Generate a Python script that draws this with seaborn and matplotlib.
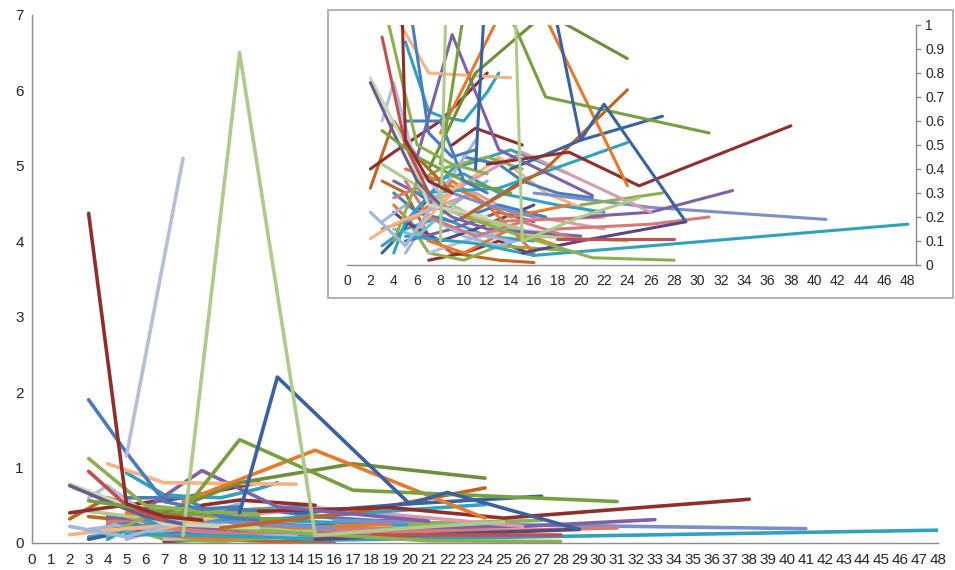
import matplotlib
matplotlib.use("Agg")
import matplotlib.pyplot as plt
import seaborn as sns
import pandas as pd
from matplotlib.patches import Rectangle

# ---------------- data: (x values, y values) per series ----------------
red_spike     = ([3, 5, 7, 9], [4.37, 0.52, 0.35, 0.30])
lav_spike     = ([5, 8], [1.15, 5.10])
lgreen_peak   = ([8, 11, 15, 20, 25], [0.10, 6.50, 0.10, 0.20, 0.28])
dblue_peak    = ([11, 13, 20, 22, 29], [0.40, 2.20, 0.52, 0.67, 0.18])
blue_fall     = ([3, 5, 7, 9, 11], [1.90, 1.20, 0.55, 0.45, 0.48])
olive_peak    = ([8, 11, 17, 31], [0.42, 1.37, 0.70, 0.55])
olive_fall    = ([3, 6, 9, 12], [1.12, 0.50, 0.42, 0.38])
orange_peak   = ([8, 15, 24], [0.55, 1.23, 0.33])
dgreen_long   = ([7, 11, 17, 24], [0.40, 0.80, 1.05, 0.86])
purple_peak   = ([6, 9, 13, 21], [0.45, 0.96, 0.48, 0.29])
salmon_flat   = ([4, 7, 14], [1.05, 0.80, 0.78])
dred_long     = ([12, 19, 25, 38], [0.42, 0.47, 0.33, 0.58])
peri_long     = ([16, 26, 41], [0.30, 0.24, 0.19])
teal_long     = ([5, 11, 16, 26, 48], [0.12, 0.09, 0.04, 0.08, 0.17])
purple_33     = ([20, 26, 33], [0.20, 0.22, 0.31])
rose_31       = ([18, 26, 31], [0.15, 0.17, 0.20])
dpurple_29    = ([15, 20, 29], [0.05, 0.10, 0.18])
red_28        = ([18, 28], [0.11, 0.11])
green_28      = ([10, 15, 21, 28], [0.20, 0.12, 0.03, 0.02])
green_27      = ([20, 27], [0.25, 0.30])
blue_27       = ([14, 20, 27], [0.40, 0.52, 0.62])
orange_24     = ([10, 17, 24], [0.20, 0.40, 0.73])
pink_26       = ([8, 15, 26], [0.28, 0.47, 0.22])
teal_24       = ([6, 13, 24], [0.30, 0.32, 0.51])
teal_top      = ([5, 7, 8, 10, 12, 13], [0.93, 0.64, 0.62, 0.60, 0.72, 0.80])
red_3         = ([3, 5, 7], [0.95, 0.50, 0.30])
slate_2       = ([2, 4, 6, 8], [0.76, 0.55, 0.35, 0.25])
pale_2        = ([2, 5, 7, 12], [0.78, 0.50, 0.25, 0.20])
lav_3         = ([3, 4, 6, 8], [0.60, 0.76, 0.40, 0.30])
dred_2        = ([2, 4, 8, 12], [0.40, 0.47, 0.60, 0.80])
orange_2      = ([2, 4, 6, 9], [0.32, 0.60, 0.45, 0.30])
lblue_2       = ([2, 5, 8, 11], [0.22, 0.08, 0.30, 0.52])
salmon_2      = ([2, 4, 7, 10], [0.11, 0.17, 0.23, 0.35])
blue_flat     = ([5, 8, 10, 12], [0.60, 0.60, 0.35, 0.30])
green_3       = ([3, 6, 10, 14], [0.56, 0.45, 0.35, 0.30])
dred_flat     = ([9, 11, 15], [0.50, 0.57, 0.50])
f01 = ([4, 6, 9, 13, 17], [0.30, 0.22, 0.18, 0.25, 0.20])
f02 = ([3, 5, 8, 12, 16], [0.08, 0.15, 0.20, 0.12, 0.10])
f03 = ([4, 7, 10, 14, 18], [0.25, 0.10, 0.05, 0.15, 0.08])
f04 = ([4, 6, 9, 12, 20], [0.35, 0.30, 0.20, 0.15, 0.12])
f05 = ([5, 7, 10, 13, 19], [0.20, 0.05, 0.02, 0.08, 0.06])
f06 = ([4, 6, 8, 12, 22], [0.28, 0.32, 0.25, 0.18, 0.20])
f07 = ([4, 6, 9, 12], [0.15, 0.12, 0.25, 0.35])
f08 = ([3, 5, 7, 9, 13, 16], [0.35, 0.30, 0.12, 0.05, 0.02, 0.01])
f09 = ([5, 8, 11, 14, 22], [0.18, 0.25, 0.30, 0.22, 0.15])
f10 = ([3, 4, 7, 10, 15], [0.05, 0.10, 0.28, 0.20, 0.35])
f11 = ([6, 9, 12, 16, 24], [0.30, 0.22, 0.18, 0.12, 0.10])
f12 = ([5, 7, 10, 13, 18], [0.05, 0.20, 0.12, 0.08, 0.15])
f13 = ([6, 9, 13, 17, 22], [0.15, 0.30, 0.45, 0.30, 0.20])
f14 = ([7, 10, 14, 20], [0.05, 0.10, 0.15, 0.12])
f15 = ([4, 5, 8, 11, 16], [0.22, 0.18, 0.10, 0.15, 0.25])
f16 = ([7, 10, 13, 18, 22], [0.35, 0.38, 0.30, 0.25, 0.22])
f17 = ([4, 6, 8, 12, 15], [0.10, 0.35, 0.40, 0.45, 0.40])
f18 = ([5, 8, 11, 14, 19], [0.40, 0.35, 0.28, 0.20, 0.25])
f19 = ([7, 10, 13, 16], [0.02, 0.05, 0.10, 0.04])
f20 = ([10, 13, 15, 18, 21], [0.45, 0.42, 0.35, 0.30, 0.28])
f21 = ([6, 9, 12, 16], [0.45, 0.30, 0.25, 0.20])
f22 = ([3, 5, 9, 14], [0.18, 0.25, 0.15, 0.10])
f23 = ([5, 7, 11, 15, 20], [0.35, 0.20, 0.12, 0.18, 0.10])
f24 = ([4, 5, 9, 14, 19], [0.05, 0.18, 0.40, 0.48, 0.38])
f25 = ([3, 7, 11, 15], [0.42, 0.30, 0.20, 0.15])
f26 = ([5, 9, 13, 16], [0.10, 0.15, 0.22, 0.18])
f27 = ([3, 6, 9, 12, 16], [0.15, 0.20, 0.35, 0.25, 0.05])

# ---------------- styling ----------------
C = dict(
    dblue="#3A62A0", blue="#4A7DBE", dred="#8E2F2C", red="#C0504D",
    olive="#77A03E", green="#8DB04F", lgreen="#AECB8C", purple="#7E61A6",
    dpurple="#5B4680", teal="#31A2BE", lteal="#6FC3D6", orange="#E9782A",
    dorange="#C0641E", salmon="#F7B285", pink="#D99AAE", rosered="#D47B78",
    lavender="#B6BEDB", lblue="#9DB7DE", peri="#7D8FCB", pale="#C9D6BA",
    slate="#6A5D8E", dgreen="#6E8F3A",
)

series = [
    ("f08", f08, "dorange"), ("f19", f19, "dred"), ("f05", f05, "green"),
    ("f14", f14, "lavender"), ("f12", f12, "lblue"), ("f02", f02, "teal"),
    ("f03", f03, "orange"), ("f10", f10, "dblue"), ("f15", f15, "dpurple"),
    ("f26", f26, "purple"), ("f27", f27, "orange"), ("f22", f22, "lblue"),
    ("f07", f07, "lteal"), ("f09", f09, "pink"), ("f11", f11, "lgreen"),
    ("f01", f01, "blue"), ("f06", f06, "rosered"), ("f04", f04, "purple"),
    ("f23", f23, "rosered"), ("f25", f25, "lgreen"), ("f24", f24, "teal"),
    ("f13", f13, "salmon"), ("f16", f16, "teal"), ("f17", f17, "green"),
    ("f18", f18, "orange"), ("f20", f20, "blue"), ("f21", f21, "peri"),
    ("teal_long", teal_long, "teal"), ("peri_long", peri_long, "peri"),
    ("purple_33", purple_33, "purple"), ("rose_31", rose_31, "rosered"),
    ("dpurple_29", dpurple_29, "dpurple"), ("red_28", red_28, "red"),
    ("green_28", green_28, "green"), ("green_27", green_27, "green"),
    ("pink_26", pink_26, "pink"), ("teal_24", teal_24, "teal"),
    ("salmon_2", salmon_2, "salmon"), ("lblue_2", lblue_2, "lblue"),
    ("orange_2", orange_2, "dorange"), ("dred_2", dred_2, "dred"),
    ("lav_3", lav_3, "lavender"), ("pale_2", pale_2, "pale"),
    ("slate_2", slate_2, "slate"), ("red_3", red_3, "red"),
    ("green_3", green_3, "olive"), ("blue_flat", blue_flat, "blue"),
    ("dred_flat", dred_flat, "dred"), ("orange_24", orange_24, "dorange"),
    ("blue_27", blue_27, "dblue"), ("dred_long", dred_long, "dred"),
    ("teal_top", teal_top, "teal"), ("purple_peak", purple_peak, "purple"),
    ("salmon_flat", salmon_flat, "salmon"), ("dgreen_long", dgreen_long, "dgreen"),
    ("orange_peak", orange_peak, "orange"), ("olive_fall", olive_fall, "green"),
    ("olive_peak", olive_peak, "olive"), ("blue_fall", blue_fall, "blue"),
    ("dblue_peak", dblue_peak, "dblue"), ("lgreen_peak", lgreen_peak, "lgreen"),
    ("lav_spike", lav_spike, "lavender"), ("red_spike", red_spike, "dred"),
]

rows = []
for name, (xs, ys), _ in series:
    for x, y in zip(xs, ys):
        rows.append({"series": name, "x": x, "y": y})
df = pd.DataFrame(rows)
order = [s[0] for s in series]
palette = {s[0]: C[s[2]] for s in series}

sns.set_style("white")
plt.rcParams["font.family"] = ["Liberation Sans", "DejaVu Sans"]

fig = plt.figure(figsize=(9.55, 5.7), dpi=100)
W, H = 955.0, 570.0
axis_gray = "#8C8C8C"
text_col = "#262626"

# ---------- main axes ----------
ax = fig.add_axes([32 / W, 27 / H, (938 - 32) / W, (543 - 15) / H])
ax.set_zorder(0)
sns.lineplot(data=df, x="x", y="y", hue="series", hue_order=order, palette=palette,
             estimator=None, sort=False, legend=False, linewidth=2.6, ax=ax)
ax.set_xlim(0, 48)
ax.set_ylim(0, 7)
ax.set_xticks(range(0, 49))
ax.set_xticklabels([str(i) for i in range(0, 49)])
ax.set_yticks(range(0, 8))
ax.set_xlabel("")
ax.set_ylabel("")
for s in ["top", "right"]:
    ax.spines[s].set_visible(False)
for s in ["left", "bottom"]:
    ax.spines[s].set_color(axis_gray)
    ax.spines[s].set_linewidth(1.0)
ax.tick_params(axis="both", which="major", length=4, width=1, color=axis_gray,
               labelsize=11, labelcolor=text_col, pad=2, direction="out")
ax.tick_params(axis="x", pad=3)

# ---------- inset box ----------
box = Rectangle((328 / W, (H - 298) / H), (953 - 328) / W, (298 - 10) / H,
                transform=fig.transFigure, facecolor="white", edgecolor="#A6A6A6",
                linewidth=1.2, zorder=1)
fig.add_artist(box)

# ---------- inset axes ----------
xmax_in = 48.7
ax2 = fig.add_axes([347 / W, (H - 265) / H, (916 - 347) / W, 240 / H])
ax2.set_zorder(2)
ax2.patch.set_alpha(0)
sns.lineplot(data=df, x="x", y="y", hue="series", hue_order=order, palette=palette,
             estimator=None, sort=False, legend=False, linewidth=2.2, ax=ax2)
ax2.set_xlim(0, xmax_in)
ax2.set_ylim(0, 1)
ax2.set_xticks(range(0, 49))
ax2.set_xticklabels([str(i) if i % 2 == 0 else "" for i in range(0, 49)])
ax2.set_yticks([i / 10 for i in range(0, 11)])
ax2.set_yticklabels(["0"] + [f"0.{i}" for i in range(1, 10)] + ["1"])
ax2.yaxis.tick_right()
ax2.set_xlabel("")
ax2.set_ylabel("")
for s in ["top", "left"]:
    ax2.spines[s].set_visible(False)
for s in ["right", "bottom"]:
    ax2.spines[s].set_color(axis_gray)
    ax2.spines[s].set_linewidth(1.0)
ax2.tick_params(axis="both", which="major", length=3.5, width=1, color=axis_gray,
                labelsize=10, labelcolor=text_col, pad=3, direction="out")

fig.savefig("out.png", dpi=100)
